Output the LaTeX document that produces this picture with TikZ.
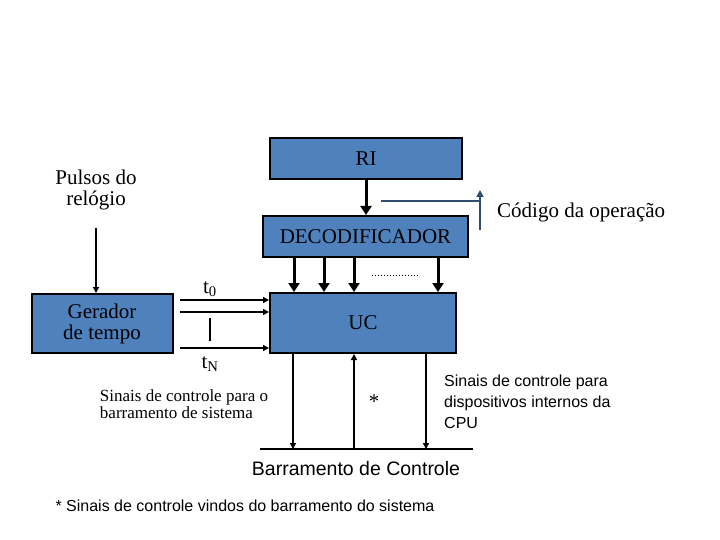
\documentclass[tikz,border=0pt]{standalone}
\usepackage{fontspec}
\setmainfont{Liberation Serif}
\newfontfamily\arialf{Liberation Sans}
\usetikzlibrary{arrows.meta}
\definecolor{boxblue}{HTML}{4F81BD}
\definecolor{linkblue}{HTML}{2F4F70}
\begin{document}
\begin{tikzpicture}[x=1pt,y=-1pt,
  blk/.style={draw=black,line width=2pt,fill=boxblue,inner sep=0pt},
  thick arr/.style={line width=3pt,-{Triangle[length=9pt,width=11pt]}},
  thin arr/.style={line width=1.6pt,-{Triangle[length=6pt,width=6pt]}},
  lbl/.style={inner sep=0pt,align=center}]
\useasboundingbox (0,0) rectangle (720,540);
\node[blk,minimum width=192pt,minimum height=41pt,font=\fontsize{21}{24}\selectfont] (ri) at (366,158.5) {RI};
\node[blk,minimum width=205pt,minimum height=41pt,font=\fontsize{21}{24}\selectfont] (dec) at (365.5,236.5) {DECODIFICADOR};
\node[blk,minimum width=186pt,minimum height=60pt,font=\fontsize{21}{24}\selectfont] (uc) at (363,323) {UC};
\node[blk,minimum width=141pt,minimum height=59pt,font=\fontsize{21}{24}\selectfont,align=center] (ger) at (102,323.5) {Gerador\\[-3pt]de tempo};
\node[lbl,font=\fontsize{21}{24}\selectfont] (pul) at (96,190) {Pulsos do\\[-3pt]relógio};
\coordinate (pa) at (96,228);
\draw[thin arr] (pa) -- (ger.north -| pa);
\draw[thick arr] (ri.south) -- (dec.north -| ri.south);
\foreach \xx/\nm in {294/a,324/b,354/c,438/d}{
  \coordinate (s\nm) at (\xx,257);
  \draw[thick arr] (s\nm) -- (uc.north -| s\nm);
}
\coordinate (d1) at (372,275); \coordinate (d2) at (419,275);
\draw[dotted,line width=1pt] (d1) -- (d2);
% código da operação
\coordinate (c1) at (381,201); \coordinate (c2) at (480,201); \coordinate (c3) at (480,230); \coordinate (c4) at (480,190);
\draw[linkblue,line width=1.8pt] (c1) -- (c2);
\draw[linkblue,line width=1.8pt,-{Triangle[length=7pt,width=7pt]}] (c3) -- (c4);
\node[lbl,font=\fontsize{21}{24}\selectfont,anchor=west] (cod) at (497,212) {Código da operação};
% clock lines
\foreach \yy/\nm in {300/a,312/b,348/c}{
  \coordinate (t\nm) at (180,\yy);
  \draw[thin arr] (t\nm) -- (uc.west |- t\nm);
}
\coordinate (v1) at (210,318); \coordinate (v2) at (210,341);
\draw[line width=1.6pt] (v1) -- (v2);
\node[lbl,font=\fontsize{21}{24}\selectfont] (t0) at (210,289) {t\textsubscript{0}};
\node[lbl,font=\fontsize{21}{24}\selectfont] (tn) at (210,364) {t\textsubscript{N}};
% bus
\coordinate (b1) at (260,449); \coordinate (b2) at (473,449);
\draw[line width=1.6pt] (b1) -- (b2);
\coordinate (ba) at (293,449); \coordinate (bb) at (354,449); \coordinate (bc) at (426,449);
\draw[thin arr] (uc.south -| ba) -- (ba);
\draw[thin arr] (bb) -- (uc.south -| bb);
\draw[thin arr] (uc.south -| bc) -- (bc);
\node[lbl,font=\fontsize{21}{24}\selectfont] (star) at (374,402) {*};
\node[lbl,font=\fontsize{17}{17}\selectfont,align=left] (sl) at (184,404) {Sinais de controle para o\\barramento de sistema};
\node[lbl,font=\arialf\fontsize{16}{21}\selectfont,align=left,anchor=west] (sr) at (444,402) {Sinais de controle para\\dispositivos internos da\\CPU};
\node[lbl,font=\arialf\fontsize{19.5}{22}\selectfont] (bus) at (356,469) {Barramento de Controle};
\node[lbl,font=\arialf\fontsize{16}{18}\selectfont] (foot) at (245,506) {* Sinais de controle vindos do barramento do sistema};
\end{tikzpicture}
\end{document}
